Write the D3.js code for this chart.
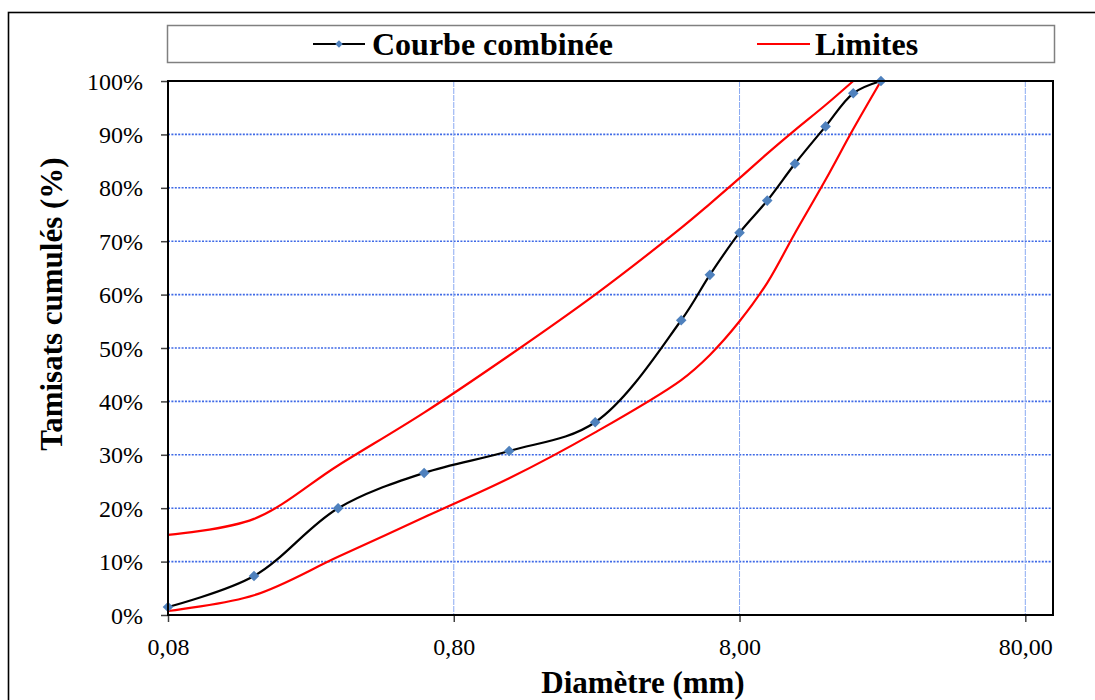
<!DOCTYPE html>
<html>
<head>
<meta charset="utf-8">
<script src="https://cdn.jsdelivr.net/npm/d3@7"></script>
<style>
  body { margin: 0; background: #fff; }
  text { font-family: "Times New Roman", "Liberation Serif", serif; fill: #000; }
</style>
</head>
<body>
<svg id="chart" width="1095" height="700"></svg>
<script>
// sieve openings (mm)
const sieves = [0.08, 0.16, 0.315, 0.63, 1.25, 2.5, 5, 6.3, 8, 10, 12.5, 16, 20, 25];
// cumulative passing (%)
const combined = [1.5, 7.3, 20, 26.6, 30.7, 36.1, 55.2, 63.7, 71.6, 77.6, 84.5, 91.5, 97.7, 100];
const upperLimit = [15, 18, 28, 37.9, 48.6, 60, 72.5, 77, 81.8, 86.4, 90.8, 95.5, 100];
const lowerLimit = [0.75, 3.7, 10.9, 18.3, 25.6, 34.2, 44, 48.7, 55, 62.2, 71.5, 81.5, 91, 100];
const xTicks = [0.08, 0.8, 8, 80];
const yTicks = [0, 10, 20, 30, 40, 50, 60, 70, 80, 90, 100];

const serif = '"Liberation Serif", "Times New Roman", serif';
const svg = d3.select('#chart');
const plot = { left: 168, top: 81, right: 1053, bottom: 615 };

const x = d3.scaleLog().domain([0.08, 100]).range([plot.left, plot.right]);
const y = d3.scaleLinear().domain([0, 100]).range([plot.bottom, plot.top]);

// outer chart frame (runs past the window edge like the source)
svg.append('rect')
    .attr('x', 8.5).attr('y', 12.5)
    .attr('width', 1100).attr('height', 700)
    .attr('fill', 'none').attr('stroke', '#000').attr('stroke-width', 1.6);

// gridlines
svg.append('g')
    .selectAll('line')
    .data(yTicks.filter(d => d > 0 && d < 100))
    .join('line')
    .attr('x1', plot.left).attr('x2', plot.right)
    .attr('y1', d => y(d)).attr('y2', d => y(d))
    .attr('stroke', '#3f6ae6').attr('stroke-width', 1.6)
    .attr('stroke-dasharray', '2,1.4');

svg.append('g')
    .selectAll('line')
    .data(xTicks.slice(1))
    .join('line')
    .attr('x1', d => x(d)).attr('x2', d => x(d))
    .attr('y1', plot.top).attr('y2', plot.bottom)
    .attr('stroke', '#8aaaf2').attr('stroke-width', 1)
    .attr('stroke-dasharray', '6,1');

// axes
const fmt = d => d3.format('.2f')(d).replace('.', ',');
const yAxis = svg.append('g')
    .attr('transform', `translate(${plot.left},0)`)
    .call(d3.axisLeft(y).tickValues(yTicks).tickFormat(d => d + '%').tickSize(7).tickPadding(18));
const xAxis = svg.append('g')
    .attr('transform', `translate(0,${plot.bottom})`)
    .call(d3.axisBottom(x).tickValues(xTicks).tickFormat(fmt).tickSize(7).tickPadding(16));
[yAxis, xAxis].forEach(g => {
    g.attr('font-family', null).attr('font-size', null);
    g.select('.domain').remove();
    g.selectAll('.tick line').attr('stroke', '#404040').attr('stroke-width', 1.5);
    g.selectAll('.tick text').style('font-family', serif).style('font-size', '24px');
});
yAxis.selectAll('.tick text').attr('dy', '0.34em');

// series
const line = d3.line()
    .x(d => x(d[0]))
    .y(d => y(d[1]))
    .curve(d3.curveCatmullRom.alpha(0.5));

const upperPts = upperLimit.map((v, i) => [sieves[i], v]);
const lowerPts = lowerLimit.map((v, i) => [sieves[i], v]);
const combPts = combined.map((v, i) => [sieves[i], v]);

[upperPts, lowerPts].forEach(pts => {
    svg.append('path')
        .attr('d', line(pts))
        .attr('fill', 'none')
        .attr('stroke', '#ff0000')
        .attr('stroke-width', 2.2);
});

svg.append('path')
    .attr('d', line(combPts))
    .attr('fill', 'none')
    .attr('stroke', '#000')
    .attr('stroke-width', 2.2);

const diamond = d3.symbol(d3.symbolSquare, 56);
svg.append('g')
    .selectAll('path')
    .data(combPts)
    .join('path')
    .attr('d', diamond)
    .attr('transform', d => `translate(${x(d[0])},${y(d[1])}) rotate(45)`)
    .attr('fill', '#4f81bd');

// plot area border
svg.append('rect')
    .attr('x', plot.left).attr('y', plot.top)
    .attr('width', plot.right - plot.left).attr('height', plot.bottom - plot.top)
    .attr('fill', 'none').attr('stroke', '#000').attr('stroke-width', 2);

// legend
const legend = svg.append('g');
legend.append('rect')
    .attr('x', 167.5).attr('y', 25.5).attr('width', 887).attr('height', 37)
    .attr('fill', '#fff').attr('stroke', '#808080').attr('stroke-width', 1.5);
legend.append('line')
    .attr('x1', 313).attr('x2', 365).attr('y1', 44).attr('y2', 44)
    .attr('stroke', '#000').attr('stroke-width', 2.2);
legend.append('path')
    .attr('d', d3.symbol(d3.symbolSquare, 28)())
    .attr('transform', 'translate(339,44) rotate(45)')
    .attr('fill', '#4f81bd');
legend.append('text')
    .attr('x', 372).attr('y', 55)
    .attr('font-size', 32).attr('font-weight', 'bold')
    .text('Courbe combinée');
legend.append('line')
    .attr('x1', 757).attr('x2', 810).attr('y1', 44).attr('y2', 44)
    .attr('stroke', '#ff0000').attr('stroke-width', 2.2);
legend.append('text')
    .attr('x', 815).attr('y', 55)
    .attr('font-size', 32).attr('font-weight', 'bold')
    .text('Limites');

// axis titles
svg.append('text')
    .attr('transform', 'translate(62,304) rotate(-90)')
    .attr('text-anchor', 'middle')
    .attr('font-size', 31).attr('font-weight', 'bold')
    .text('Tamisats cumulés (%)');
svg.append('text')
    .attr('x', 643).attr('y', 693)
    .attr('text-anchor', 'middle')
    .attr('font-size', 31).attr('font-weight', 'bold')
    .text('Diamètre (mm)');
</script>
</body>
</html>
